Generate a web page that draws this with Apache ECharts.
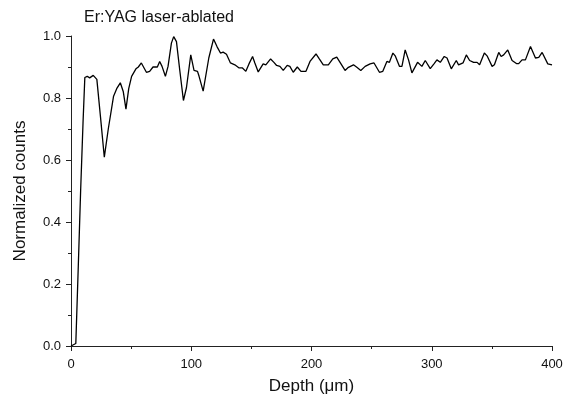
<!DOCTYPE html>
<html>
<head>
<meta charset="utf-8">
<script src="https://cdn.jsdelivr.net/npm/echarts@6/dist/echarts.min.js"></script>
<style>
  html, body { margin: 0; padding: 0; background: #fff; }
  #chart { width: 568px; height: 400px; }
</style>
</head>
<body>
<div id="chart"></div>
<script>
// depth in µm, normalized counts
var depth = [0, 2, 4, 6, 8, 10, 11.5, 13.5, 15.5, 18.5, 21.5, 24.5, 27.7, 31, 35.4, 38, 41, 43.5, 45.7, 48,
  50.4, 54, 56, 58.5, 59.9, 62.7, 65.4, 68.2, 71.8, 73.75, 75.7, 78.5, 80.7, 83.5, 85.4, 87.7, 90.4, 93.5, 96, 99.6,
  102.3, 105.2, 106.5, 109.9, 114.6, 118.5, 121.5, 124.3, 126.5, 129.3, 132.6, 136.25, 139.8, 142.6, 145.4, 148, 151, 152.9, 155.7, 159.8,
  162, 166, 168.75, 171, 173.75, 176.5, 179.8, 182, 184.8, 188.2, 191.25, 195.4, 198.75, 203.75, 206.5, 209.8, 214, 217.7, 221, 223.75,
  227.9, 230.7, 234.9, 237.7, 241, 244.6, 248.75, 252, 256.5, 259.3, 262.7, 264.8, 267.7, 269.6, 273.2, 275.2, 277.9, 280.7, 283.5, 284.8,
  288.2, 291.8, 294.6, 296, 298.75, 302, 304.3, 307.1, 310.4, 312.7, 316.25, 320.4, 322.3, 326, 328.75, 331.5, 334.8, 337.7, 339.8, 343.75,
  346, 350.2, 352.1, 355.7, 357.7, 359.8, 363.2, 366.8, 370.4, 372.3, 375.1, 377.9, 382.1, 386.25, 389, 391.8, 393.2, 396.5, 400];
var counts = [0.0, 0.004, 0.008, 0.25, 0.5, 0.72, 0.866, 0.87, 0.865, 0.873, 0.86, 0.74, 0.609, 0.7, 0.806, 0.83, 0.849, 0.82, 0.764, 0.83,
  0.87, 0.894, 0.9, 0.913, 0.907, 0.883, 0.886, 0.9, 0.9, 0.918, 0.902, 0.87, 0.902, 0.977, 0.998, 0.982, 0.891, 0.792, 0.833, 0.939,
  0.889, 0.886, 0.87, 0.822, 0.929, 0.99, 0.965, 0.945, 0.948, 0.941, 0.913, 0.907, 0.897, 0.897, 0.886, 0.91, 0.934, 0.913, 0.884, 0.91,
  0.907, 0.926, 0.915, 0.905, 0.902, 0.889, 0.905, 0.902, 0.883, 0.9, 0.886, 0.886, 0.918, 0.942, 0.926, 0.907, 0.907, 0.926, 0.932, 0.915,
  0.889, 0.899, 0.907, 0.899, 0.889, 0.902, 0.91, 0.913, 0.883, 0.886, 0.918, 0.915, 0.945, 0.936, 0.902, 0.902, 0.955, 0.923, 0.881, 0.875,
  0.915, 0.902, 0.921, 0.921, 0.895, 0.911, 0.923, 0.915, 0.934, 0.929, 0.894, 0.921, 0.907, 0.913, 0.939, 0.921, 0.915, 0.915, 0.907, 0.945,
  0.936, 0.902, 0.907, 0.947, 0.934, 0.939, 0.955, 0.921, 0.911, 0.911, 0.923, 0.923, 0.966, 0.929, 0.931, 0.947, 0.945, 0.91, 0.907];

var points = depth.map(function (d, i) { return [d, counts[i]]; });

var font = 'Liberation Sans, Arial, Helvetica, sans-serif';
var axisColor = '#222';

var myChart = echarts.init(document.getElementById('chart'), null, { renderer: 'canvas' });
myChart.setOption({
  animation: false,
  backgroundColor: '#fff',
  title: {
    text: 'Er:YAG laser-ablated',
    left: 79,
    top: 5,
    textStyle: { fontFamily: font, fontSize: 16, fontWeight: 'normal', color: '#111' }
  },
  grid: { left: 71, right: 16, top: 36, bottom: 51 },
  xAxis: {
    type: 'value',
    min: 0,
    max: 400,
    interval: 100,
    name: 'Depth (\u03bcm)',
    nameLocation: 'middle',
    nameGap: 32,
    nameTextStyle: { fontFamily: font, fontSize: 17, color: '#111' },
    axisLine: { lineStyle: { color: axisColor, width: 1 } },
    axisTick: { length: 5, lineStyle: { color: axisColor } },
    minorTick: { show: true, splitNumber: 2, length: 3, lineStyle: { color: axisColor } },
    axisLabel: { fontFamily: font, fontSize: 13, color: '#111', margin: 12 },
    splitLine: { show: false }
  },
  yAxis: {
    type: 'value',
    min: 0,
    max: 1,
    interval: 0.2,
    name: 'Normalized counts',
    nameLocation: 'middle',
    nameGap: 42,
    nameTextStyle: { fontFamily: font, fontSize: 17, color: '#111' },
    axisLine: { show: true, lineStyle: { color: axisColor, width: 1 } },
    axisTick: { show: true, length: 5, lineStyle: { color: axisColor } },
    minorTick: { show: true, splitNumber: 2, length: 3, lineStyle: { color: axisColor } },
    axisLabel: {
      fontFamily: font, fontSize: 13, color: '#111', margin: 10,
      formatter: function (v) { return v.toFixed(1); }
    },
    splitLine: { show: false }
  },
  series: [{
    type: 'line',
    data: points,
    showSymbol: false,
    smooth: false,
    lineStyle: { color: '#000', width: 1.3 }
  }]
});
</script>
</body>
</html>
